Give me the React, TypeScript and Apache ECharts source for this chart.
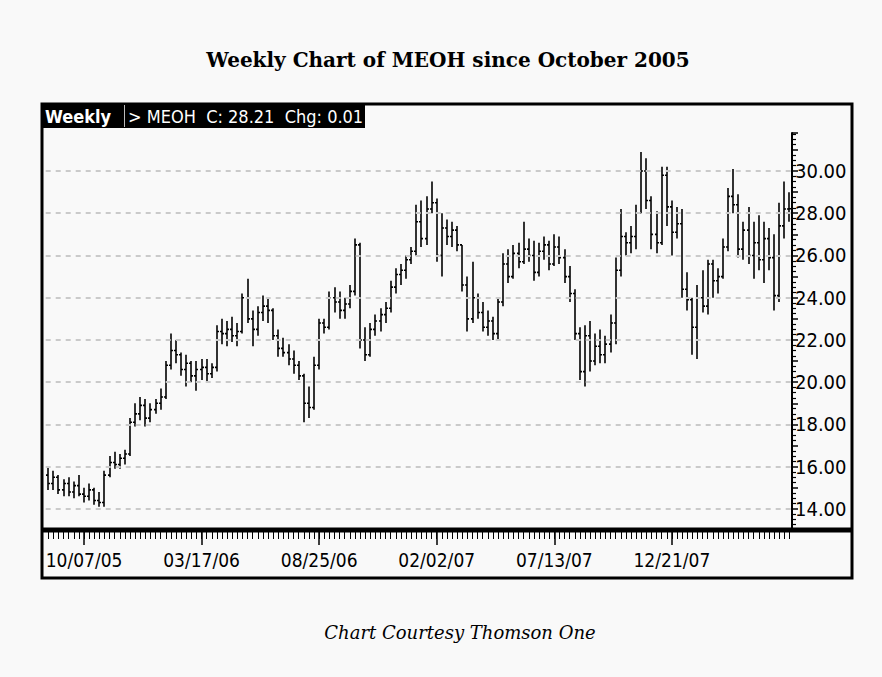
import React, { useEffect, useRef } from "react";
import * as echarts from "echarts";

// Weekly OHLC of MEOH, first week ending 08/19/05
const startWeek = "2005-08-19";
const opens = [
  15.6, 15.2, 15.5, 14.9, 15.2, 14.8, 15.1, 14.7, 14.6, 14.9, 14.4, 14.3, 15.6, 16.2, 16.1, 16.4,
  16.6, 18.1, 18.5, 18.9, 18.3, 18.7, 19.0, 19.3, 20.8, 21.5, 21.3, 20.6, 20.9, 20.3, 20.6, 20.7,
  20.4, 20.7, 22.4, 22.3, 22.5, 22.2, 22.4, 24.0, 23.0, 22.5, 23.3, 23.6, 23.4, 22.2, 21.6, 21.4,
  21.1, 20.8, 20.3, 19.0, 18.8, 20.8, 22.8, 22.6, 24.0, 23.8, 23.4, 23.7, 24.3, 26.5, 22.0, 21.3,
  22.5, 22.9, 23.2, 23.5, 24.5, 25.1, 25.3, 25.8, 26.2, 27.6, 26.8, 28.2, 28.5, 26.0, 27.3, 26.9,
  27.2, 26.5, 24.6, 23.0, 24.0, 23.3, 22.6, 22.9, 22.3, 23.8, 25.6, 25.0, 26.1, 25.7, 26.3, 26.0,
  25.2, 26.2, 26.5, 25.6, 26.4, 25.9, 25.0, 24.2, 22.3, 20.5, 22.2, 21.0, 21.7, 21.3, 21.8, 22.8,
  25.3, 26.9, 26.6, 26.9, 28.0, 30.0, 28.6, 27.0, 26.6, 29.8, 28.3, 27.1, 27.5, 24.4, 23.9, 22.6,
  24.0, 23.6, 25.6, 24.8, 25.0, 26.4, 28.8, 28.4, 26.3, 27.2, 26.0, 26.6, 25.8, 26.8, 25.9, 24.1,
  27.4, 28.2,
];
const highs = [
  16.0, 15.8, 15.6, 15.4, 15.5, 15.3, 15.6, 15.0, 15.2, 15.0, 14.8, 15.8, 16.5, 16.7, 16.6, 16.8,
  18.3, 19.0, 19.3, 19.2, 19.0, 19.2, 19.7, 21.0, 22.3, 22.0, 21.4, 21.3, 21.0, 21.0, 21.1, 21.1,
  20.9, 22.7, 23.0, 22.9, 23.1, 22.8, 24.2, 24.9, 23.4, 23.6, 24.1, 24.0, 23.5, 22.5, 22.1, 21.8,
  21.5, 21.0, 20.4, 19.8, 21.2, 23.0, 23.0, 24.3, 24.5, 24.3, 24.0, 24.6, 26.8, 26.6, 22.6, 22.8,
  23.2, 23.5, 23.8, 24.8, 25.4, 25.6, 26.0, 26.4, 28.4, 28.6, 28.8, 29.5, 28.7, 28.0, 27.7, 27.6,
  27.4, 26.5, 25.0, 25.7, 24.2, 23.8, 23.4, 23.1, 24.0, 26.1, 26.3, 26.5, 26.6, 27.6, 26.8, 26.7,
  26.6, 26.9, 26.7, 27.0, 26.9, 26.3, 25.5, 24.4, 22.6, 22.7, 22.9, 22.3, 22.5, 22.2, 23.2, 25.9,
  28.2, 27.1, 27.4, 28.4, 30.9, 30.6, 28.8, 28.1, 30.2, 30.2, 28.6, 28.3, 28.2, 25.2, 24.0, 24.6,
  25.3, 25.8, 25.8, 25.4, 26.8, 29.2, 30.1, 28.9, 27.6, 28.3, 27.6, 27.9, 27.6, 27.3, 27.0, 28.5,
  29.5, 29.0,
];
const lows = [
  14.9, 14.9, 14.7, 14.6, 14.6, 14.5, 14.6, 14.3, 14.4, 14.2, 14.1, 14.1, 15.5, 15.9, 15.9, 16.1,
  16.5, 17.9, 18.2, 17.9, 18.1, 18.5, 18.7, 19.2, 20.6, 20.9, 20.3, 19.8, 20.0, 19.6, 20.1, 20.0,
  20.2, 20.5, 21.8, 21.7, 21.9, 21.7, 22.3, 22.8, 21.7, 22.2, 22.9, 22.8, 22.0, 21.2, 21.2, 20.8,
  20.4, 20.1, 18.1, 18.3, 18.7, 20.6, 22.3, 22.5, 23.3, 23.0, 23.0, 23.5, 24.1, 21.6, 21.0, 21.2,
  22.2, 22.4, 22.8, 23.3, 24.2, 24.6, 24.9, 25.6, 26.0, 26.4, 26.5, 28.0, 25.7, 25.0, 26.5, 26.4,
  26.2, 24.3, 22.4, 22.8, 23.0, 22.4, 22.2, 22.0, 22.0, 23.6, 24.7, 24.9, 25.4, 25.6, 25.7, 24.8,
  25.0, 25.8, 25.3, 25.5, 25.6, 24.7, 23.8, 22.0, 20.1, 19.8, 20.5, 20.8, 20.9, 20.9, 21.4, 21.8,
  25.0, 26.0, 26.1, 26.3, 28.0, 28.2, 26.3, 26.1, 26.5, 27.4, 26.0, 26.8, 24.0, 23.4, 21.3, 21.1,
  23.3, 23.2, 24.0, 24.2, 24.9, 26.2, 28.0, 25.9, 25.8, 25.6, 24.9, 25.3, 24.7, 25.3, 23.4, 23.8,
  26.8, 27.6,
];
const closes = [
  15.2, 15.5, 14.9, 15.2, 14.8, 15.1, 14.7, 14.6, 14.9, 14.4, 14.3, 15.6, 16.2, 16.1, 16.4, 16.6,
  18.1, 18.5, 18.9, 18.3, 18.7, 19.0, 19.3, 20.8, 21.5, 21.3, 20.6, 20.9, 20.3, 20.6, 20.7, 20.4,
  20.7, 22.4, 22.3, 22.5, 22.2, 22.4, 24.0, 23.0, 22.5, 23.3, 23.6, 23.4, 22.2, 21.6, 21.4, 21.1,
  20.8, 20.3, 19.0, 18.8, 20.8, 22.8, 22.6, 24.0, 23.8, 23.4, 23.7, 24.3, 26.5, 22.0, 21.3, 22.5,
  22.9, 23.2, 23.5, 24.5, 25.1, 25.3, 25.8, 26.2, 27.6, 26.8, 28.2, 28.5, 26.0, 27.3, 26.9, 27.2,
  26.5, 24.6, 23.0, 24.0, 23.3, 22.6, 22.9, 22.3, 23.8, 25.6, 25.0, 26.1, 25.7, 26.3, 26.0, 25.2,
  26.2, 26.5, 25.6, 26.4, 25.9, 25.0, 24.2, 22.3, 20.5, 22.2, 21.0, 21.7, 21.3, 21.8, 22.8, 25.3,
  26.9, 26.6, 26.9, 28.0, 30.0, 28.6, 27.0, 26.6, 29.8, 28.3, 27.1, 27.5, 24.4, 23.9, 22.6, 24.0,
  23.6, 25.6, 24.8, 25.0, 26.4, 28.8, 28.4, 26.3, 27.2, 26.0, 26.6, 25.8, 26.8, 25.9, 24.1, 27.4,
  28.2, 28.21,
];
const gridLevels = [14, 16, 18, 20, 22, 24, 26, 28, 30];
const labelStart = 7;
const labelStep = 23;
const labelLast = 122;

const pad = (n: number) => (n < 10 ? "0" + n : "" + n);
const startMs = Date.parse(startWeek + "T00:00:00Z");
const dates = opens.map((_, i) => {
  const d = new Date(startMs + i * 7 * 86400000);
  return pad(d.getUTCMonth() + 1) + "/" + pad(d.getUTCDate()) + "/" + pad(d.getUTCFullYear() % 100);
});

const NARROW = "'Liberation Sans Narrow', 'DejaVu Sans Condensed', 'Arial Narrow', sans-serif";

export default function App() {
  const ref = useRef<HTMLDivElement>(null);
  useEffect(() => {
    if (!ref.current) return;
    const chart = echarts.init(ref.current, null, { renderer: "svg" });
    const data = opens.map((o, i) => [i, o, highs[i], lows[i], closes[i]]);
    const isMajor = (i: number) => i >= labelStart && i <= labelLast && (i - labelStart) % labelStep === 0;
    chart.setOption({
      animation: false,
      backgroundColor: "transparent",
      grid: { left: 45.7, right: 90, top: 133, bottom: 147, containLabel: false },
      xAxis: [
        {
          type: "category",
          data: dates,
          position: "bottom",
          boundaryGap: true,
          axisLine: { show: false },
          axisTick: { show: true, interval: 0, alignWithLabel: true, length: 9, lineStyle: { color: "#000", width: 1 } },
          axisLabel: { show: false },
          splitLine: { show: false },
        },
        {
          type: "category",
          data: dates,
          position: "bottom",
          boundaryGap: true,
          axisLine: { show: false },
          axisTick: {
            show: true,
            interval: (i: number) => isMajor(i),
            alignWithLabel: true,
            length: 15,
            lineStyle: { color: "#000", width: 1.5 },
          },
          axisLabel: {
            show: true,
            interval: (i: number) => isMajor(i),
            color: "#000",
            fontFamily: NARROW,
            fontSize: 19,
            margin: 20,
          },
          splitLine: { show: false },
        },
      ],
      yAxis: {
        type: "value",
        position: "right",
        min: 13,
        max: 31.8,
        interval: 1,
        axisLine: { show: true, lineStyle: { color: "#000", width: 2 } },
        axisTick: { show: true, length: 6, lineStyle: { color: "#000", width: 1.5 } },
        minorTick: { show: true, splitNumber: 4, length: 4, lineStyle: { color: "#000", width: 1.2 } },
        axisLabel: {
          color: "#000",
          fontFamily: NARROW,
          fontSize: 20,
          margin: 3,
          formatter: (v: number) => (gridLevels.indexOf(v) >= 0 ? v.toFixed(2) : ""),
        },
        splitLine: { show: false },
      },
      series: [
        {
          type: "custom",
          xAxisIndex: 0,
          data,
          encode: { x: 0, y: [1, 2, 3, 4] },
          clip: true,
          renderItem: (params: any, api: any) => {
            const i = api.value(0);
            const pO = api.coord([i, api.value(1)]);
            const pH = api.coord([i, api.value(2)]);
            const pL = api.coord([i, api.value(3)]);
            const pC = api.coord([i, api.value(4)]);
            const x = Math.round(pH[0]);
            const st = { stroke: "#000", lineWidth: 1.6 };
            return {
              type: "group",
              children: [
                { type: "line", shape: { x1: x, y1: pH[1], x2: x, y2: pL[1] }, style: st },
                { type: "line", shape: { x1: x - 2, y1: pO[1], x2: x, y2: pO[1] }, style: st },
                { type: "line", shape: { x1: x, y1: pC[1], x2: x + 2, y2: pC[1] }, style: st },
              ],
            };
          },
          markLine: {
            silent: true,
            symbol: ["none", "none"],
            label: { show: false },
            lineStyle: { color: "#cacaca", type: [5, 5], width: 2 },
            data: gridLevels.map((v) => ({ yAxis: v })),
          },
          z: 3,
        },
      ],
      graphic: [
        {
          type: "rect",
          shape: { x: 42, y: 104, width: 810, height: 474 },
          style: { fill: "none", stroke: "#000", lineWidth: 3 },
          z: 10,
        },
        {
          type: "line",
          shape: { x1: 42, y1: 530, x2: 852, y2: 530 },
          style: { stroke: "#000", lineWidth: 5 },
          z: 10,
        },
        {
          type: "rect",
          shape: { x: 42, y: 104, width: 323, height: 24 },
          style: { fill: "#000" },
          z: 11,
        },
        {
          type: "line",
          shape: { x1: 124.5, y1: 105, x2: 124.5, y2: 127 },
          style: { stroke: "#bbbbbb", lineWidth: 1 },
          z: 12,
        },
        {
          type: "text",
          x: 45,
          y: 116.5,
          style: {
            text: "Weekly",
            fill: "#fff",
            font: "bold 18px " + NARROW,
            verticalAlign: "middle",
          },
          z: 12,
        },
        {
          type: "text",
          x: 128,
          y: 116.5,
          style: {
            text: "> MEOH  C: 28.21  Chg: 0.01",
            fill: "#fff",
            font: "18px " + NARROW,
            verticalAlign: "middle",
          },
          z: 12,
        },
        {
          type: "text",
          x: 448,
          y: 60,
          style: {
            text: "Weekly Chart of MEOH since October 2005",
            fill: "#000",
            font: "bold 20px 'DejaVu Serif', 'Liberation Serif', serif",
            align: "center",
            verticalAlign: "middle",
          },
        },
        {
          type: "text",
          x: 460,
          y: 632,
          style: {
            text: "Chart Courtesy Thomson One",
            fill: "#000",
            font: "italic 18px 'DejaVu Serif', 'Liberation Serif', serif",
            align: "center",
            verticalAlign: "middle",
          },
        },
      ],
    });
    return () => chart.dispose();
  }, []);
  return (
    <div
      style={{ position: "fixed", left: 0, top: 0, width: 882, height: 677, background: "#f9f9f9" }}
    >
      <div ref={ref} style={{ width: 882, height: 677 }} />
    </div>
  );
}
